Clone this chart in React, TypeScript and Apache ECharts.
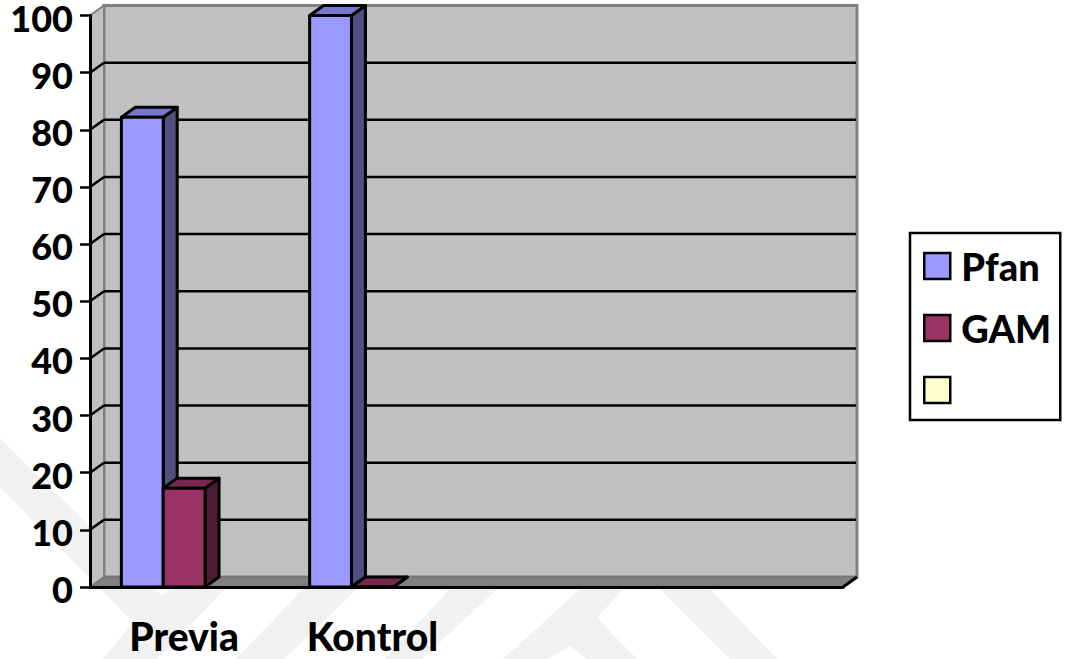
import React, { useEffect, useRef } from "react";
import * as echarts from "echarts";

const categories = ["Previa", "Kontrol", "", ""];
const seriesNames = ["Pfan", "GAM", " "];
const pfanValues = [82.2, 100, null, null];
const gamValues = [17.3, 0, null, null];
const thirdValues = [null, null, null, null];
const yTicks = [0, 10, 20, 30, 40, 50, 60, 70, 80, 90, 100];

const FONT = "Lato";
const DEPTH_X = 14;
const DEPTH_Y = -10;
const SHADES = [
  { front: "#9999ff", top: "#7777cc", side: "#4f4f80" },
  { front: "#993366", top: "#78284f", side: "#4d1a33" },
  { front: "#ffffcc", top: "#ccccA3", side: "#808066" },
];

// Pale background bands behind the plot
const bandColor = "#f1f1f1";
const bandShapes: number[][][] = [
  [[0, 438], [34, 472], [162, 596], [170, 589], [225, 589], [157, 659], [103, 659], [133, 622], [0, 487]],
  [[303, 589], [357, 589], [284, 659], [236, 659]],
  [[450, 589], [497, 589], [422, 659], [385, 659]],
  [[580, 589], [623, 589], [597, 618], [637, 659], [587, 659], [570, 646], [547, 659], [503, 659]],
  [[660, 589], [710, 589], [777, 659], [730, 659]],
];

function renderWall(params: any, api: any) {
  const v = api.value(1);
  const cs = params.coordSys;
  const y = api.coord([0, v])[1];
  const left = cs.x;
  const right = cs.x + cs.width;
  const bottom = cs.y + cs.height;
  const children: any[] = [];
  if (v === 0) {
    // back wall, left wall and floor
    children.push({
      type: "polygon",
      shape: { points: [[left + DEPTH_X, cs.y + DEPTH_Y], [right + DEPTH_X, cs.y + DEPTH_Y], [right + DEPTH_X, bottom + DEPTH_Y], [left + DEPTH_X, bottom + DEPTH_Y]] },
      style: { fill: "#c0c0c0", stroke: "#808080", lineWidth: 3 },
    });
    children.push({
      type: "polygon",
      shape: { points: [[left, cs.y], [left + DEPTH_X, cs.y + DEPTH_Y], [left + DEPTH_X, bottom + DEPTH_Y], [left, bottom]] },
      style: { fill: "#c0c0c0", stroke: "#808080", lineWidth: 2 },
    });
    children.push({
      type: "polygon",
      shape: { points: [[left, bottom], [left + DEPTH_X, bottom + DEPTH_Y], [right + DEPTH_X, bottom + DEPTH_Y], [right, bottom]] },
      style: { fill: "#808080", stroke: "#6e6e6e", lineWidth: 1 },
    });
    children.push({
      type: "line",
      shape: { x1: right, y1: bottom, x2: right + DEPTH_X, y2: bottom + DEPTH_Y },
      style: { stroke: "#000", lineWidth: 3 },
    });
  } else if (v < 100) {
    children.push({
      type: "line",
      shape: { x1: left + DEPTH_X, y1: y + DEPTH_Y, x2: right + DEPTH_X - 1, y2: y + DEPTH_Y },
      style: { stroke: "#000", lineWidth: 2.5 },
    });
    children.push({
      type: "line",
      shape: { x1: left, y1: y, x2: left + DEPTH_X, y2: y + DEPTH_Y },
      style: { stroke: "#000", lineWidth: 2.5 },
    });
  }
  return { type: "group", children };
}

// Draws one box: front face, top face and right-hand side face
function makeBarRenderer(seriesIndex: number) {
  return (params: any, api: any) => {
    const value = api.value(1);
    const [cx, y] = api.coord([api.value(0), value]);
    const y0 = api.coord([0, 0])[1];
    const band = api.size([1, 0])[0];
    const w = band / 4.5;
    const x0 = cx - band / 2 + w * 0.75 + seriesIndex * w;
    const x1 = x0 + w;
    const c = SHADES[seriesIndex];
    const line = { stroke: "#000", lineWidth: 3, lineJoin: "round" };
    return {
      type: "group",
      children: [
        {
          type: "polygon",
          shape: { points: [[x1, y], [x1 + DEPTH_X, y + DEPTH_Y], [x1 + DEPTH_X, y0 + DEPTH_Y], [x1, y0]] },
          style: { fill: c.side, ...line },
        },
        {
          type: "polygon",
          shape: { points: [[x0, y], [x0 + DEPTH_X, y + DEPTH_Y], [x1 + DEPTH_X, y + DEPTH_Y], [x1, y]] },
          style: { fill: c.top, ...line },
        },
        {
          type: "polygon",
          shape: { points: [[x0, y], [x1, y], [x1, y0], [x0, y0]] },
          style: { fill: c.front, ...line },
        },
      ],
    };
  };
}

function barSeries(name: string, values: (number | null)[], idx: number) {
  return {
    type: "custom",
    name,
    z: 4,
    clip: false,
    renderItem: makeBarRenderer(idx),
    itemStyle: { color: SHADES[idx].front },
    encode: { x: 0, y: 1 },
    data: values.flatMap((v, i) => (v === null ? [] : [[i, v]])),
  };
}

export default function App() {
  const ref = useRef<HTMLDivElement>(null);

  useEffect(() => {
    const chart = echarts.init(ref.current!, undefined, { renderer: "svg" });
    chart.setOption({
      animation: false,
      backgroundColor: "#ffffff",
      grid: { left: 90, top: 15.5, width: 753, height: 571.5, outerBoundsMode: "none" },
      graphic: bandShapes.map((points) => ({
        type: "polygon",
        z: -10,
        silent: true,
        shape: { points },
        style: { fill: bandColor },
      })),
      legend: {
        orient: "vertical",
        left: 910,
        top: 233,
        padding: [13, 9, 10, 13],
        itemWidth: 26,
        itemHeight: 26,
        itemGap: 22,
        borderColor: "#000",
        borderWidth: 2.5,
        backgroundColor: "#fff",
        selectedMode: false,
        textStyle: {
          fontFamily: FONT,
          fontWeight: 900,
          fontSize: 38,
          lineHeight: 40,
          color: "#000",
          padding: [0, 0, 0, 6],
        },
        data: seriesNames.map((name, i) => ({
          name,
          icon: "rect",
          itemStyle: { color: SHADES[i].front, borderColor: "#000", borderWidth: 2.5 },
        })),
      },
      xAxis: {
        type: "category",
        data: categories,
        z: 3,
        axisLine: { lineStyle: { color: "#000", width: 3 } },
        axisTick: { alignWithLabel: false, length: 11, lineStyle: { color: "#000", width: 2.5 } },
        axisLabel: { interval: 0, margin: 29, fontFamily: FONT, fontWeight: 900, fontSize: 39, color: "#000" },
        splitLine: { show: false },
      },
      yAxis: {
        type: "value",
        min: 0,
        max: 100,
        interval: 10,
        z: 3,
        axisLine: { show: true, lineStyle: { color: "#000", width: 3 } },
        axisTick: { show: true, length: 10, lineStyle: { color: "#000", width: 2.5 } },
        axisLabel: {
          margin: 17,
          fontFamily: FONT,
          fontWeight: 900,
          fontSize: 36,
          lineHeight: 4,
          verticalAlign: "top",
          color: "#000",
        },
        splitLine: { show: false },
      },
      series: [
        {
          type: "custom",
          name: "wall",
          z: 1,
          clip: false,
          silent: true,
          renderItem: renderWall,
          encode: { x: 0, y: 1 },
          data: yTicks.map((v) => [0, v]),
        },
        barSeries(seriesNames[0], pfanValues, 0),
        barSeries(seriesNames[1], gamValues, 1),
        barSeries(seriesNames[2], thirdValues, 2),
      ],
    });
    return () => chart.dispose();
  }, []);

  return <div ref={ref} style={{ position: "absolute", left: 0, top: 0, width: 1066, height: 659 }} />;
}
